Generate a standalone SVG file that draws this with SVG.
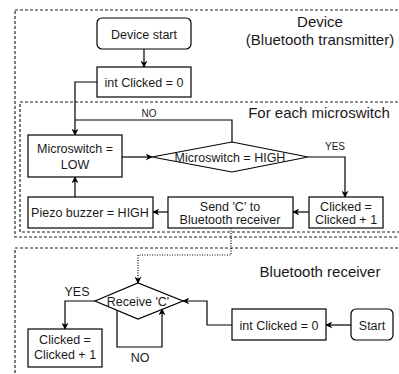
<svg xmlns="http://www.w3.org/2000/svg" width="399" height="374" viewBox="0 0 399 374">
<style>
.box{fill:#fff;stroke:#000;stroke-width:1.2}
.grp{fill:none;stroke:#222;stroke-width:1.2;stroke-dasharray:3 2}
.t{font-family:"Liberation Sans",Arial,sans-serif;font-size:12.5px;fill:#1a1a1a;text-anchor:middle}
.lbl{font-family:"Liberation Sans",Arial,sans-serif;font-size:15px;fill:#1a1a1a;text-anchor:middle}
.sm{font-family:"Liberation Sans",Arial,sans-serif;font-size:10px;fill:#1a1a1a;text-anchor:middle}
.c{fill:none;stroke:#000;stroke-width:1.2;marker-end:url(#a)}
.cn{fill:none;stroke:#000;stroke-width:1.2}
.d{fill:none;stroke:#000;stroke-width:1.2;stroke-dasharray:1 1.5;marker-end:url(#a)}
</style>
<defs>
<marker id="a" viewBox="0 0 10 10" refX="9" refY="5" markerWidth="7" markerHeight="7" markerUnits="userSpaceOnUse" orient="auto">
<path d="M0,0 L10,5 L0,10 L3,5 Z" fill="#000"/>
</marker>
</defs>
<g id="groups">
<rect class="grp" x="15" y="10" width="400" height="227"/>
<rect class="grp" x="20" y="102" width="400" height="130"/>
<rect class="grp" x="15" y="248" width="400" height="140"/>
<text class="lbl" x="320" y="27">Device</text>
<text class="lbl" x="320" y="45">(Bluetooth transmitter)</text>
<text class="lbl" x="319" y="118">For each microswitch</text>
<text class="lbl" x="320" y="277">Bluetooth receiver</text>
</g>
<g id="connectors">
<path class="c" d="M144,49 V67"/>
<path class="c" d="M97,82 H75 V135"/>
<path class="cn" d="M232,142 V120 H75"/>
<text class="sm" x="149" y="117">NO</text>
<path class="c" d="M122,157 H152"/>
<path class="c" d="M308,157 H345 V197"/>
<text class="sm" x="335" y="150">YES</text>
<path class="c" d="M309,212 H293"/>
<path class="c" d="M168,212 H153"/>
<path class="c" d="M75,197 V177"/>
<path class="d" d="M231,228 V255 H138 V283"/>
<path class="c" d="M95,301 H65 V329"/>
<text class="t" x="77" y="296">YES</text>
<path class="c" d="M117,310 V347 H162 V309"/>
<text class="t" x="140" y="362">NO</text>
<path class="c" d="M232,325 H207 V301 H183"/>
<path class="c" d="M351,325 H326"/>
</g>
<g id="device-start"><rect class="box" x="97" y="18" width="94" height="31" rx="5"/><text class="t" x="144" y="38.5">Device start</text></g>
<g id="init-tx"><rect class="box" x="97" y="67" width="94" height="30"/><text class="t" x="144" y="86.5">int Clicked = 0</text></g>
<g id="ms-low"><rect class="box" x="28" y="135" width="94" height="42"/><text class="t" x="75" y="153">Microswitch =</text><text class="t" x="75" y="169">LOW</text></g>
<g id="ms-high"><path class="box" d="M152,157 L232,142 L308,157 L232,172 Z"/><text class="t" x="230" y="161.5">Microswitch = HIGH</text></g>
<g id="clicked-tx"><rect class="box" x="309" y="197" width="74" height="31"/><text class="t" x="346" y="211">Clicked =</text><text class="t" x="346" y="224">Clicked + 1</text></g>
<g id="send"><rect class="box" x="168" y="197" width="125" height="31"/><text class="t" x="230" y="211">Send 'C' to</text><text class="t" x="230" y="224">Bluetooth receiver</text></g>
<g id="piezo"><rect class="box" x="28" y="197" width="125" height="31"/><text class="t" x="90" y="217">Piezo buzzer = HIGH</text></g>
<g id="receive"><path class="box" d="M95,301 L138,283 L183,301 L138,319 Z"/><text class="t" x="138" y="305.5">Receive 'C'</text></g>
<g id="clicked-rx"><rect class="box" x="28" y="329" width="74" height="38"/><text class="t" x="65" y="344">Clicked =</text><text class="t" x="65" y="359">Clicked + 1</text></g>
<g id="init-rx"><rect class="box" x="232" y="309" width="94" height="31"/><text class="t" x="279" y="329.5">int Clicked = 0</text></g>
<g id="start"><rect class="box" x="351" y="309" width="42" height="31" rx="5"/><text class="t" x="372" y="329.5">Start</text></g>
</svg>
